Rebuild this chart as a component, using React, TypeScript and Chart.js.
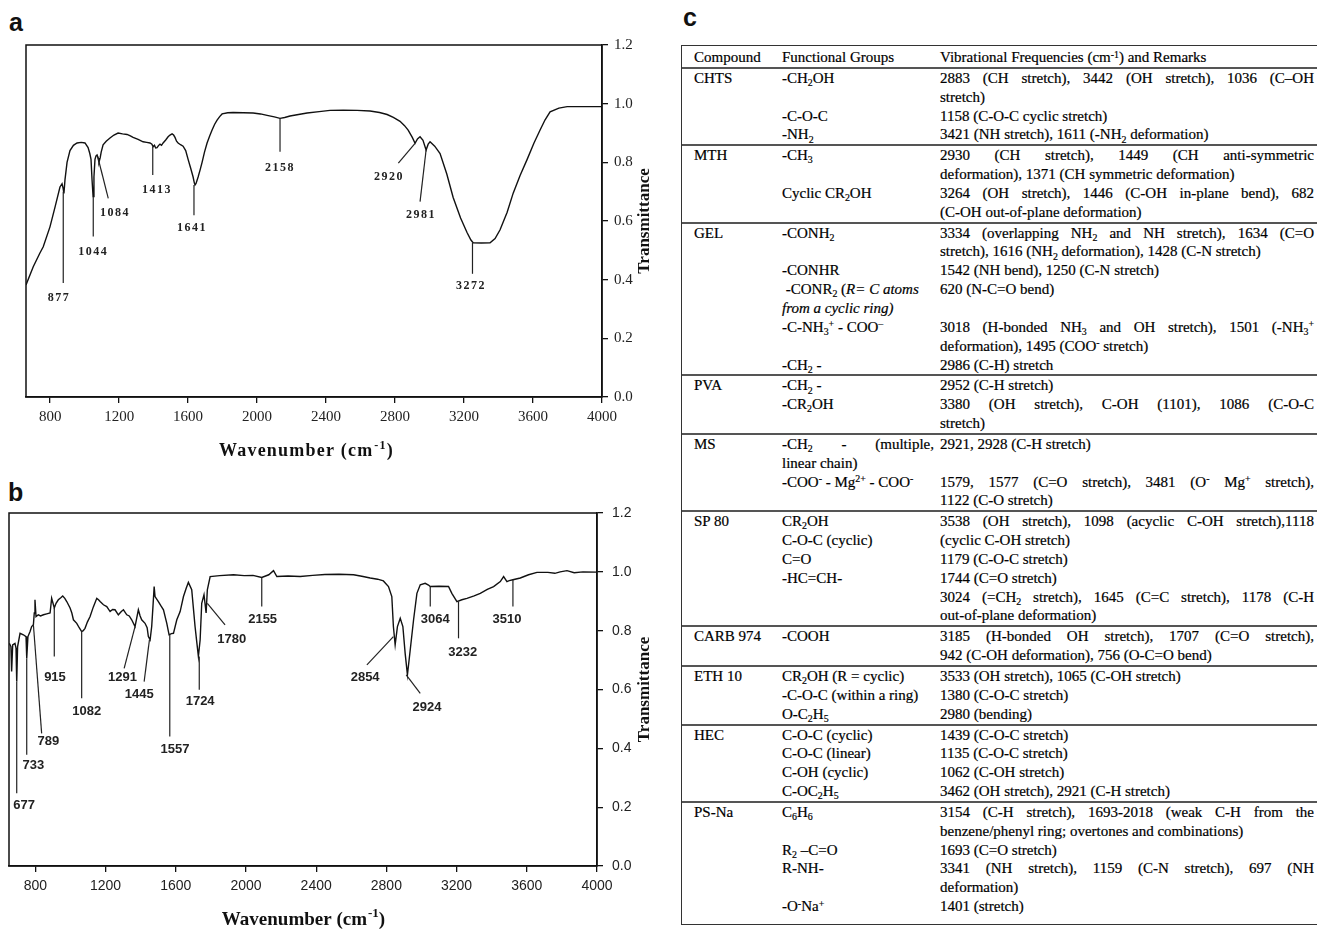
import React, { useEffect, useRef } from "react";
import { Chart, registerables } from "chart.js";

Chart.register(...registerables);

// ---------- shared axis ticks ----------
const xTickValues = [800, 1200, 1600, 2000, 2400, 2800, 3200, 3600, 4000];
const yTickValues = [0, 0.2, 0.4, 0.6, 0.8, 1.0, 1.2];

// ---------- panel a spectrum ----------
const aWavenumber = [
  660, 702, 740, 760, 799, 829, 857, 869, 875, 880, 886, 898, 915, 935, 956, 980, 1002, 1020, 1030, 1037,
  1043, 1049, 1054, 1060, 1066, 1072, 1078, 1083, 1090, 1096, 1107, 1125, 1147, 1170, 1194, 1220, 1246, 1265,
  1281, 1310, 1339, 1360, 1379, 1390, 1397, 1405, 1412, 1420, 1428, 1437, 1446, 1455, 1470, 1484, 1495, 1507,
  1516, 1524, 1533, 1542, 1556, 1571, 1586, 1600, 1615, 1629, 1636, 1640, 1646, 1658, 1670, 1681, 1695, 1710,
  1725, 1739, 1754, 1768, 1783, 1797, 1830, 1861, 1920, 1977, 2020, 2058, 2100, 2133, 2160, 2191, 2240, 2290,
  2360, 2423, 2500, 2580, 2655, 2710, 2754, 2790, 2829, 2855, 2876, 2900, 2916, 2930, 2945, 2962, 2980, 2992,
  3003, 3030, 3061, 3100, 3137, 3180, 3218, 3240, 3253, 3300, 3351, 3380, 3409, 3450, 3485, 3525, 3566, 3605,
  3641, 3670, 3699, 3750, 3798, 3850, 3900, 3950, 3995,
];
const aTransmittance = [
  0.382, 0.444, 0.49, 0.512, 0.58, 0.649, 0.716, 0.727, 0.712, 0.694, 0.74, 0.8, 0.84, 0.858, 0.866, 0.868, 0.866, 0.85, 0.83, 0.81,
  0.74, 0.683, 0.75, 0.81, 0.822, 0.825, 0.815, 0.8, 0.815, 0.835, 0.86, 0.872, 0.883, 0.893, 0.9, 0.897, 0.895, 0.89,
  0.885, 0.878, 0.87, 0.868, 0.866, 0.862, 0.853, 0.858, 0.849, 0.85, 0.857, 0.862, 0.858, 0.866, 0.876, 0.887, 0.893, 0.897,
  0.893, 0.885, 0.872, 0.866, 0.86, 0.855, 0.84, 0.81, 0.78, 0.75, 0.73, 0.723, 0.728, 0.75, 0.775, 0.8, 0.835, 0.866,
  0.89, 0.91, 0.93, 0.944, 0.956, 0.965, 0.969, 0.97, 0.969, 0.968, 0.965, 0.96, 0.955, 0.95, 0.953, 0.958, 0.963, 0.968,
  0.973, 0.977, 0.978, 0.977, 0.975, 0.97, 0.963, 0.953, 0.94, 0.925, 0.91, 0.885, 0.865, 0.88, 0.887, 0.875, 0.842, 0.862,
  0.87, 0.855, 0.83, 0.76, 0.68, 0.61, 0.56, 0.535, 0.526, 0.525, 0.526, 0.54, 0.57, 0.63, 0.695, 0.755, 0.81, 0.865,
  0.91, 0.945, 0.972, 0.985, 0.99, 0.99, 0.99, 0.99, 0.99,
];
const aPeakLabels = ["877", "1044", "1084", "1413", "1641", "2158", "2920", "2981", "3272"];
const aLeaderFrom = [[876, 0.7], [1050, 0.683], [1076, 0.819], [1395, 0.853], [1634, 0.723], [2133, 0.95], [2916, 0.865], [2980, 0.842], [3249, 0.526]];
const aLeaderTo = [[876, 0.389], [1050, 0.547], [1137, 0.677], [1395, 0.757], [1634, 0.62], [2133, 0.836], [2819, 0.797], [2945, 0.666], [3249, 0.42]];
const aLabelAt = [[851, 0.339], [1050, 0.494], [1176, 0.627], [1420, 0.706], [1623, 0.576], [2133, 0.782], [2765, 0.751], [2950, 0.62], [3241, 0.38]];

// ---------- panel b spectrum ----------
const bWavenumber = [
  652, 661, 665, 671, 684, 690, 694, 699, 713, 732, 747, 751, 758, 770, 779, 789, 794, 798, 804, 817, 830, 846, 865, 884,
  893, 900, 908, 918, 931, 945, 956, 968, 979, 998, 1008, 1017, 1036, 1050, 1064, 1073, 1083, 1097, 1112, 1130, 1150,
  1160, 1169, 1188, 1207, 1226, 1240, 1254, 1273, 1290, 1302, 1321, 1335, 1349, 1368, 1387, 1397, 1406, 1425, 1437,
  1444, 1454, 1463, 1470, 1477, 1482, 1501, 1515, 1530, 1549, 1562, 1575, 1587, 1606, 1625, 1644, 1660, 1672, 1691,
  1700, 1710, 1720, 1729, 1739, 1748, 1761, 1773, 1780, 1796, 1850, 1929, 1990, 2040, 2090, 2130, 2157, 2176, 2240,
  2309, 2380, 2450, 2530, 2613, 2660, 2708, 2750, 2783, 2812, 2831, 2840, 2850, 2863, 2879, 2894, 2907, 2920, 2936,
  2955, 2974, 2993, 3021, 3040, 3050, 3100, 3154, 3173, 3202, 3230, 3259, 3300, 3335, 3375, 3411, 3449, 3468, 3487,
  3500, 3521, 3563, 3610, 3658, 3720, 3760, 3790, 3829, 3870, 3920, 4000,
];
const bTransmittance = [
  0.757, 0.746, 0.661, 0.752, 0.757, 0.741, 0.627, 0.746, 0.791, 0.786, 0.78, 0.706, 0.78, 0.797, 0.814, 0.82, 0.86, 0.905, 0.848, 0.854, 0.85, 0.854, 0.857, 0.86,
  0.91, 0.895, 0.877, 0.893, 0.905, 0.912, 0.918, 0.91, 0.899, 0.877, 0.86, 0.837, 0.825, 0.81, 0.797, 0.8, 0.808, 0.83, 0.848, 0.88, 0.91,
  0.905, 0.899, 0.888, 0.882, 0.865, 0.872, 0.871, 0.854, 0.865, 0.871, 0.854, 0.85, 0.837, 0.814, 0.871, 0.85, 0.837, 0.825, 0.81,
  0.78, 0.769, 0.814, 0.88, 0.95, 0.916, 0.899, 0.885, 0.871, 0.825, 0.786, 0.79, 0.791, 0.837, 0.865, 0.916, 0.945, 0.964, 0.939,
  0.88, 0.814, 0.76, 0.712, 0.769, 0.893, 0.922, 0.86, 0.939, 0.984, 0.987, 0.99, 0.987, 0.988, 0.981, 0.99, 1.004, 0.984, 0.986,
  0.984, 0.988, 0.991, 0.992, 0.99, 0.985, 0.979, 0.975, 0.969, 0.95, 0.916, 0.814, 0.752, 0.814, 0.842, 0.814, 0.723, 0.65, 0.735,
  0.837, 0.927, 0.956, 0.961, 0.955, 0.95, 0.951, 0.95, 0.927, 0.899, 0.905, 0.91, 0.918, 0.927, 0.94, 0.95, 0.967, 0.984, 0.967,
  0.97, 0.973, 0.979, 0.99, 0.998, 0.998, 0.995, 1.0, 1.004, 0.997, 1.0, 0.999,
];
const bPeakLabels = ["677", "733", "789", "915", "1082", "1291", "1445", "1557", "1724", "1780", "2155", "2854", "2924", "3064", "3232", "3510"];
const bLeaderFrom = [[694, 0.627], [751, 0.706], [789, 0.82], [908, 0.877], [1064, 0.797], [1368, 0.814], [1450, 0.769], [1566, 0.786], [1734, 0.712], [1780, 0.893], [2090, 0.981], [2840, 0.78], [2913, 0.65], [3050, 0.95], [3211, 0.899], [3521, 0.973]];
const bLeaderTo = [[694, 0.247], [751, 0.378], [836, 0.451], [908, 0.712], [1064, 0.57], [1306, 0.672], [1420, 0.627], [1566, 0.44], [1734, 0.599], [1881, 0.82], [2090, 0.882], [2689, 0.684], [2993, 0.587], [3050, 0.882], [3211, 0.774], [3521, 0.882]];
const bLabelAt = [[736, 0.205], [789, 0.341], [874, 0.425], [912, 0.641], [1093, 0.525], [1297, 0.641], [1392, 0.582], [1596, 0.395], [1739, 0.559], [1919, 0.771], [2095, 0.837], [2679, 0.641], [3031, 0.539], [3078, 0.839], [3235, 0.726], [3487, 0.839]];

// ---------- panel c table ----------
const tableHeader = ["Compound", "Functional Groups", "Vibrational Frequencies (cm^{-1}) and Remarks"];
const compounds = ["CHTS", "MTH", "GEL", "PVA", "MS", "SP 80", "CARB 974", "ETH 10", "HEC", "PS-Na"];
const functionalGroups = [
  ["-CH_{2}OH", "", "-C-O-C", "-NH_{2}"],
  ["-CH_{3}", "", "Cyclic CR_{2}OH", ""],
  ["-CONH_{2}", "", "-CONHR", "\u00a0-CONR_{2} (*R= C atoms*", "*from a cyclic ring)*", "-C-NH_{3}^{+} - COO^{\u2013}", "", "-CH_{2} -"],
  ["-CH_{2} -", "-CR_{2}OH", ""],
  ["~-CH_{2} - (multiple,", "linear chain)", "-COO^{-} - Mg^{2+} - COO^{-}", ""],
  ["CR_{2}OH", "C-O-C (cyclic)", "C=O", "-HC=CH-", "", ""],
  ["-COOH", ""],
  ["CR_{2}OH (R = cyclic)", "-C-O-C (within a ring)", "O-C_{2}H_{5}"],
  ["C-O-C (cyclic)", "C-O-C (linear)", "C-OH (cyclic)", "C-OC_{2}H_{5}"],
  ["C_{6}H_{6}", "", "R_{2} \u2013C=O", "R-NH-", "", "-O^{-}Na^{+}"],
];
const remarks = [
  ["~2883 (CH stretch), 3442 (OH stretch), 1036 (C\u2013OH", "stretch)", "1158 (C-O-C cyclic stretch)", "3421 (NH stretch), 1611 (-NH_{2} deformation)"],
  ["~2930 (CH stretch), 1449 (CH anti-symmetric", "deformation), 1371 (CH symmetric deformation)", "~3264 (OH stretch), 1446 (C-OH in-plane bend), 682", "(C-OH out-of-plane deformation)"],
  ["~3334 (overlapping NH_{2} and NH stretch), 1634 (C=O", "stretch), 1616 (NH_{2} deformation), 1428 (C-N stretch)", "1542 (NH bend), 1250 (C-N stretch)", "620 (N-C=O bend)", "", "~3018 (H-bonded NH_{3} and OH stretch), 1501 (-NH_{3}^{+}", "deformation), 1495 (COO^{-} stretch)", "2986 (C-H) stretch"],
  ["2952 (C-H stretch)", "~3380 (OH stretch), C-OH (1101), 1086 (C-O-C", "stretch)"],
  ["2921, 2928 (C-H stretch)", "", "~1579, 1577 (C=O stretch), 3481 (O^{-} Mg^{+} stretch),", "1122 (C-O stretch)"],
  ["~3538 (OH stretch), 1098 (acyclic C-OH stretch),1118", "(cyclic C-OH stretch)", "1179 (C-O-C stretch)", "1744 (C=O stretch)", "~3024 (=CH_{2} stretch), 1645 (C=C stretch), 1178 (C-H", "out-of-plane deformation)"],
  ["~3185 (H-bonded OH stretch), 1707 (C=O stretch),", "942 (C-OH deformation), 756 (O-C=O bend)"],
  ["3533 (OH stretch), 1065 (C-OH stretch)", "1380 (C-O-C stretch)", "2980 (bending)"],
  ["1439 (C-O-C stretch)", "1135 (C-O-C stretch)", "1062 (C-OH stretch)", "3462 (OH stretch), 2921 (C-H stretch)"],
  ["~3154 (C-H stretch), 1693-2018 (weak C-H from the", "benzene/phenyl ring; overtones and combinations)", "1693 (C=O stretch)", "~3341 (NH stretch), 1159 (C-N stretch), 697 (NH", "deformation)", "1401 (stretch)"],
];

// ---------- helpers ----------
const subStyle: React.CSSProperties = { fontSize: "0.66em", position: "relative", top: "0.32em", verticalAlign: "baseline", lineHeight: 0 };
const supStyle: React.CSSProperties = { fontSize: "0.66em", position: "relative", top: "-0.45em", verticalAlign: "baseline", lineHeight: 0 };

function rich(s: string): React.ReactNode[] {
  const out: React.ReactNode[] = [];
  const re = /_\{([^}]*)\}|\^\{([^}]*)\}|\*([^*]*)\*/g;
  let last = 0;
  let k = 0;
  let m: RegExpExecArray | null;
  while ((m = re.exec(s))) {
    if (m.index > last) out.push(s.slice(last, m.index));
    if (m[1] !== undefined) out.push(<sub key={k++} style={subStyle}>{m[1]}</sub>);
    else if (m[2] !== undefined) out.push(<sup key={k++} style={supStyle}>{m[2]}</sup>);
    else out.push(<i key={k++}>{m[3]}</i>);
    last = re.lastIndex;
  }
  if (last < s.length) out.push(s.slice(last));
  return out;
}

function Cell({ text, width, gap }: { text: string; width: number; gap: number }) {
  const justify = text.startsWith("~");
  const t = justify ? text.slice(1) : text;
  return (
    <div
      style={{
        width,
        flex: "none",
        boxSizing: "border-box",
        paddingRight: justify ? gap : 0,
        whiteSpace: "nowrap",
        textAlign: justify ? "justify" : "left",
        textAlignLast: justify ? "justify" : "left",
        overflow: "visible",
      }}
    >
      {t ? rich(t) : "\u00a0"}
    </div>
  );
}

const COL1 = 88;
const COL2 = 158;
const COL3 = 374;
const LINE_H = 18.85;

function Line({ c1, c2, c3 }: { c1: string; c2: string; c3: string }) {
  return (
    <div style={{ display: "flex", height: LINE_H, lineHeight: LINE_H + "px", paddingLeft: 12 }}>
      <Cell text={c1} width={COL1} gap={0} />
      <Cell text={c2} width={COL2} gap={6} />
      <Cell text={c3} width={COL3} gap={0} />
    </div>
  );
}

function DataTable() {
  return (
    <div
      style={{
        position: "absolute",
        left: 681,
        top: 45,
        width: 650,
        height: 880,
        border: "1.5px solid #333",
        boxSizing: "border-box",
        fontFamily: '"Liberation Serif", "Times New Roman", serif',
        fontSize: 15,
        color: "#000",
        WebkitTextStroke: "0.2px #000",
        paddingTop: 2,
      }}
    >
      <div style={{ borderBottom: "2px solid #555" }}>
        <Line c1={tableHeader[0]} c2={tableHeader[1]} c3={tableHeader[2]} />
      </div>
      {compounds.map((cmp, gi) => (
        <div key={cmp} style={{ borderBottom: gi < compounds.length - 1 ? "2px solid #555" : "none" }}>
          {functionalGroups[gi].map((fg, li) => (
            <Line key={li} c1={li === 0 ? cmp : ""} c2={fg} c3={remarks[gi][li]} />
          ))}
        </div>
      ))}
    </div>
  );
}

// ---------- chart ----------
type Spec = {
  left: number;
  top: number;
  width: number;
  height: number;
  padLeft: number;
  padTop: number;
  yAxisW: number;
  xAxisH: number;
  xMin: number;
  wn: number[];
  tr: number[];
  labels: string[];
  from: number[][];
  to: number[][];
  at: number[][];
  tickFont: string;
  tickSize: number;
  labelFont: string;
  labelSpacing: string;
  xTitleDx: number;
  xTitleDy: number;
  xTitleSize: number;
  xTitleSpacing: string;
  yTitleDx: number;
  xPad: number;
  yPad: number;
};

function makeOverlay(sp: Spec) {
  return {
    id: "overlay",
    afterDraw(chart: any) {
      const { ctx, chartArea: ca } = chart;
      const xs = chart.scales.x;
      const ys = chart.scales.y;
      ctx.save();
      // frame
      ctx.strokeStyle = "#111";
      ctx.lineWidth = 1.5;
      ctx.strokeRect(ca.left, ca.top, ca.right - ca.left, ca.bottom - ca.top);
      // leader lines
      ctx.strokeStyle = "#222";
      ctx.lineWidth = 1.2;
      sp.from.forEach((f, i) => {
        const t = sp.to[i];
        ctx.beginPath();
        ctx.moveTo(xs.getPixelForValue(f[0]), ys.getPixelForValue(f[1]));
        ctx.lineTo(xs.getPixelForValue(t[0]), ys.getPixelForValue(t[1]));
        ctx.stroke();
      });
      // peak labels
      ctx.fillStyle = "#222";
      ctx.font = sp.labelFont;
      ctx.textAlign = "center";
      ctx.textBaseline = "middle";
      (ctx as any).letterSpacing = sp.labelSpacing;
      sp.labels.forEach((t, i) => {
        ctx.fillText(t, xs.getPixelForValue(sp.at[i][0]), ys.getPixelForValue(sp.at[i][1]));
      });
      (ctx as any).letterSpacing = "0px";
      // x-axis title with superscript
      const fs = sp.xTitleSize;
      const serif = '"Liberation Serif", "Times New Roman", serif';
      ctx.fillStyle = "#111";
      ctx.textAlign = "left";
      ctx.textBaseline = "alphabetic";
      (ctx as any).letterSpacing = sp.xTitleSpacing;
      ctx.font = `bold ${fs}px ${serif}`;
      const p1 = "Wavenumber (cm";
      const w1 = ctx.measureText(p1).width;
      ctx.font = `bold ${Math.round(fs * 0.68)}px ${serif}`;
      const w2 = ctx.measureText("-1").width;
      ctx.font = `bold ${fs}px ${serif}`;
      const w3 = ctx.measureText(")").width;
      const cx = (ca.left + ca.right) / 2 + sp.xTitleDx;
      const by = ca.bottom + sp.xTitleDy + fs * 0.35;
      let x0 = cx - (w1 + w2 + w3) / 2;
      ctx.fillText(p1, x0, by);
      x0 += w1;
      ctx.font = `bold ${Math.round(fs * 0.68)}px ${serif}`;
      ctx.fillText("-1", x0 + 1, by - fs * 0.42);
      x0 += w2 + 1;
      ctx.font = `bold ${fs}px ${serif}`;
      ctx.fillText(")", x0, by);
      (ctx as any).letterSpacing = "0px";
      // y-axis title (bottom to top)
      ctx.save();
      ctx.translate(ca.right + sp.yTitleDx, (ca.top + ca.bottom) / 2);
      ctx.rotate(-Math.PI / 2);
      ctx.textAlign = "center";
      ctx.textBaseline = "middle";
      ctx.font = `bold 17px ${serif}`;
      ctx.fillText("Transmittance", 0, 0);
      ctx.restore();
      ctx.restore();
    },
  };
}

function SpectrumPanel({ sp }: { sp: Spec }) {
  const ref = useRef<HTMLCanvasElement | null>(null);
  useEffect(() => {
    if (!ref.current) return;
    const tickFont = { family: sp.tickFont, size: sp.tickSize };
    const chart = new Chart(ref.current, {
      type: "line",
      data: {
        datasets: [
          {
            data: sp.wn.map((x, i) => ({ x, y: sp.tr[i] })),
            borderColor: "#111",
            borderWidth: 1.4,
            pointRadius: 0,
            tension: 0,
            fill: false,
          },
        ],
      },
      options: {
        responsive: false,
        maintainAspectRatio: false,
        animation: false,
        events: [],
        layout: { padding: { left: sp.padLeft, top: sp.padTop, right: 0, bottom: 0 } },
        plugins: { legend: { display: false }, tooltip: { enabled: false }, title: { display: false } },
        scales: {
          x: {
            type: "linear",
            min: sp.xMin,
            max: 4000,
            afterBuildTicks: (s: any) => {
              s.ticks = xTickValues.map((v) => ({ value: v }));
            },
            afterFit: (s: any) => {
              s.height = sp.xAxisH;
            },
            grid: { display: true, drawOnChartArea: false, drawTicks: true, tickLength: 6, color: "#111", lineWidth: 1.3 },
            border: { display: true, color: "#111", width: 1.5 },
            ticks: { font: tickFont, color: "#222", padding: sp.xPad, maxRotation: 0, autoSkip: false, callback: (v: any) => String(v) },
          },
          y: {
            type: "linear",
            position: "right",
            min: 0,
            max: 1.2,
            afterBuildTicks: (s: any) => {
              s.ticks = yTickValues.map((v) => ({ value: v }));
            },
            afterFit: (s: any) => {
              s.width = sp.yAxisW;
            },
            grid: { display: true, drawOnChartArea: false, drawTicks: true, tickLength: 6, color: "#111", lineWidth: 1.3 },
            border: { display: true, color: "#111", width: 1.5 },
            ticks: { font: tickFont, color: "#222", padding: sp.yPad, autoSkip: false, callback: (v: any) => Number(v).toFixed(1) },
          },
        },
      } as any,
      plugins: [makeOverlay(sp)],
    });
    return () => chart.destroy();
  }, []);
  return (
    <canvas
      ref={ref}
      width={sp.width}
      height={sp.height}
      style={{ position: "absolute", left: sp.left, top: sp.top, width: sp.width, height: sp.height }}
    />
  );
}

const panelA: Spec = {
  left: 0, top: 0, width: 665, height: 470, padLeft: 26, padTop: 45, yAxisW: 63, xAxisH: 73, xMin: 660,
  wn: aWavenumber, tr: aTransmittance, labels: aPeakLabels, from: aLeaderFrom, to: aLeaderTo, at: aLabelAt,
  tickFont: '"Liberation Serif", "Times New Roman", serif', tickSize: 15,
  labelFont: 'bold 12px "Liberation Serif", serif', labelSpacing: "1.5px",
  xTitleDx: -8, xTitleDy: 53, xTitleSize: 18, xTitleSpacing: "1.2px", yTitleDx: 43, xPad: 5, yPad: 6,
};

const panelB: Spec = {
  left: 0, top: 470, width: 665, height: 465, padLeft: 9, padTop: 43, yAxisW: 68, xAxisH: 69, xMin: 650,
  wn: bWavenumber, tr: bTransmittance, labels: bPeakLabels, from: bLeaderFrom, to: bLeaderTo, at: bLabelAt,
  tickFont: '"Liberation Sans", Arial, sans-serif', tickSize: 14,
  labelFont: 'bold 13px "Liberation Sans", Arial, sans-serif', labelSpacing: "0px",
  xTitleDx: 0, xTitleDy: 52, xTitleSize: 19, xTitleSpacing: "0px", yTitleDx: 48, xPad: 6, yPad: 9,
};

const letterStyle: React.CSSProperties = {
  position: "absolute",
  fontFamily: '"Liberation Sans", Arial, sans-serif',
  fontWeight: "bold",
  fontSize: 25,
  lineHeight: "25px",
  color: "#111",
};

export default function App() {
  return (
    <div style={{ position: "absolute", left: 0, top: 0, width: 1317, height: 935, overflow: "hidden", background: "#fff" }}>
      <div style={{ ...letterStyle, left: 9, top: 10 }}>a</div>
      <div style={{ ...letterStyle, left: 8, top: 480 }}>b</div>
      <div style={{ ...letterStyle, left: 683, top: 5 }}>c</div>
      <SpectrumPanel sp={panelA} />
      <SpectrumPanel sp={panelB} />
      <DataTable />
    </div>
  );
}
